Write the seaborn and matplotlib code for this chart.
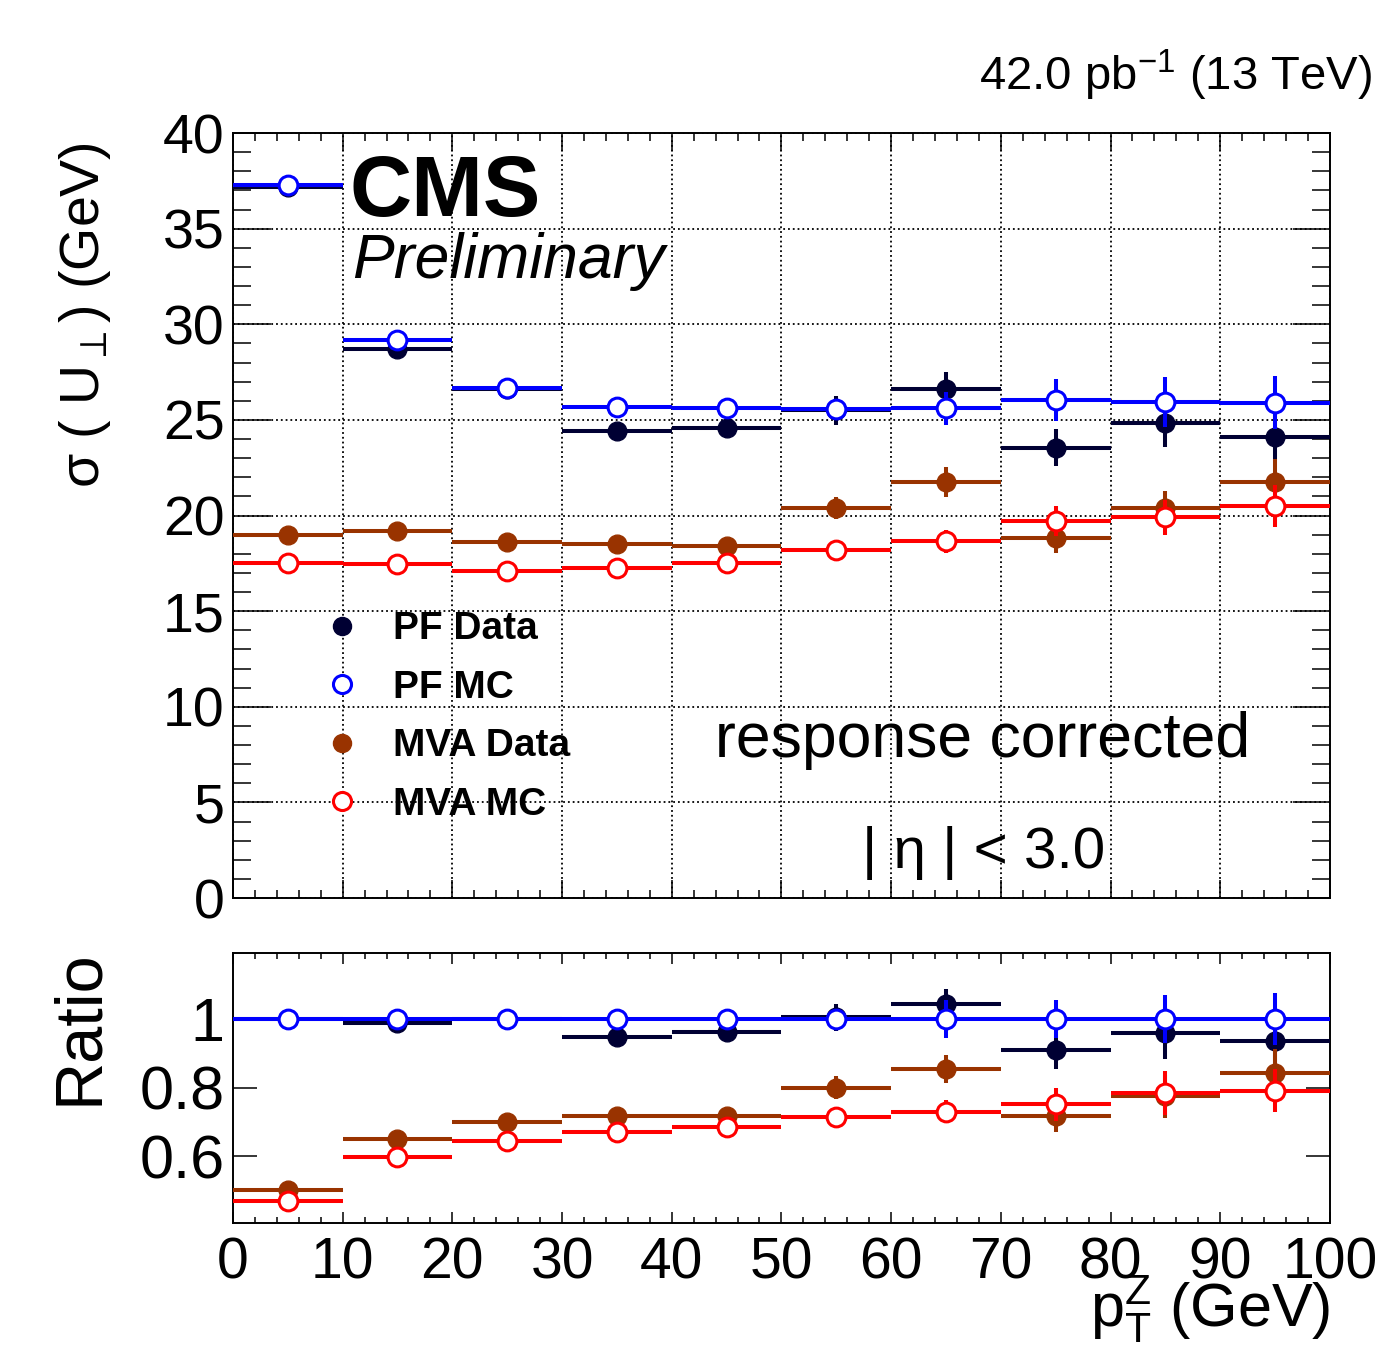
import numpy as np
import pandas as pd
import matplotlib
matplotlib.use("Agg")
import matplotlib.pyplot as plt
from matplotlib.lines import Line2D
from matplotlib.ticker import MultipleLocator, FixedLocator
import seaborn as sns

# ── data ──────────────────────────────────────────────────────────────────────
bin_centers = [5, 15, 25, 35, 45, 55, 65, 75, 85, 95]
bin_half = 5

pf_data     = [37.2, 28.7, 26.6, 24.4, 24.6, 25.5, 26.6, 23.55, 24.85, 24.1]
pf_data_err = [0.25, 0.25, 0.3, 0.3, 0.3, 0.75, 0.88, 0.95, 1.25, 1.15]
pf_mc       = [37.3, 29.2, 26.65, 25.7, 25.6, 25.55, 25.6, 26.05, 25.95, 25.9]
pf_mc_err   = [0.1, 0.15, 0.2, 0.25, 0.3, 0.45, 0.87, 1.1, 1.3, 1.4]
mva_data     = [19.0, 19.2, 18.6, 18.5, 18.4, 20.4, 21.75, 18.85, 20.4, 21.75]
mva_data_err = [0.2, 0.25, 0.25, 0.3, 0.3, 0.58, 0.78, 0.8, 0.9, 1.2]
mva_mc       = [17.5, 17.45, 17.1, 17.25, 17.5, 18.2, 18.65, 19.7, 19.9, 20.5]
mva_mc_err   = [0.15, 0.2, 0.2, 0.25, 0.3, 0.35, 0.6, 0.78, 0.9, 1.1]

r_pf_data     = [1.0, 0.99, 1.0, 0.947, 0.963, 1.005, 1.045, 0.91, 0.96, 0.937]
r_pf_data_err = [0.01, 0.012, 0.012, 0.015, 0.015, 0.039, 0.044, 0.054, 0.075, 0.068]
r_pf_mc       = [1.0, 1.0, 1.0, 1.0, 1.0, 1.0, 1.0, 1.0, 1.0, 1.0]
r_pf_mc_err   = [0.005, 0.007, 0.008, 0.01, 0.012, 0.02, 0.055, 0.055, 0.07, 0.076]
r_mva_data     = [0.503, 0.65, 0.70, 0.719, 0.719, 0.80, 0.855, 0.718, 0.775, 0.842]
r_mva_data_err = [0.01, 0.012, 0.012, 0.015, 0.015, 0.034, 0.041, 0.047, 0.063, 0.07]
r_mva_mc       = [0.47, 0.597, 0.645, 0.67, 0.685, 0.715, 0.73, 0.752, 0.785, 0.792]
r_mva_mc_err   = [0.008, 0.01, 0.01, 0.012, 0.012, 0.015, 0.034, 0.048, 0.064, 0.063]

labels = ['PF Data', 'PF MC', 'MVA Data', 'MVA MC']
colors = ['#000033', '#0000ff', '#993300', '#ff0000']
filled = [True, False, True, False]

top_vals = [(pf_data, pf_data_err), (pf_mc, pf_mc_err),
            (mva_data, mva_data_err), (mva_mc, mva_mc_err)]
ratio_vals = [(r_pf_data, r_pf_data_err), (r_pf_mc, r_pf_mc_err),
              (r_mva_data, r_mva_data_err), (r_mva_mc, r_mva_mc_err)]

# ── style ─────────────────────────────────────────────────────────────────────
sns.set_theme(style="ticks")
plt.rcParams['font.family'] = ['Liberation Sans', 'DejaVu Sans']
plt.rcParams['mathtext.fontset'] = 'custom'
plt.rcParams['mathtext.rm'] = 'Liberation Sans'
plt.rcParams['mathtext.it'] = 'Liberation Sans:italic'
plt.rcParams['mathtext.bf'] = 'Liberation Sans:bold'
plt.rcParams['axes.linewidth'] = 1.4
for key in ['text.color', 'axes.labelcolor', 'xtick.color', 'ytick.color',
            'axes.edgecolor']:
    plt.rcParams[key] = 'black'

fig = plt.figure(figsize=(13.8, 13.48), dpi=100)
ax1 = fig.add_axes([0.1688, 0.3338, 0.7949, 0.5675])
ax2 = fig.add_axes([0.1688, 0.0930, 0.7949, 0.2003])


def draw_series(ax, vals, ms=13.5):
    for i, (y, yerr) in enumerate(vals):
        df = pd.DataFrame({'x': bin_centers, 'y': y})
        ax.errorbar(bin_centers, y, xerr=bin_half, yerr=yerr, fmt='none',
                    ecolor=colors[i], elinewidth=2.9, capsize=0, zorder=3 + i)
        if filled[i]:
            sns.scatterplot(data=df, x='x', y='y', ax=ax, color=colors[i],
                            s=ms ** 2, marker='o', edgecolor=colors[i],
                            linewidth=1.0, zorder=3.5 + i, legend=False)
        else:
            sns.scatterplot(data=df, x='x', y='y', ax=ax, s=ms ** 2, marker='o',
                            facecolor='white', edgecolor=colors[i],
                            linewidth=2.2, zorder=3.5 + i, legend=False)


draw_series(ax1, top_vals)
ax2.axhline(1.0, color='#777777', ls='--', lw=1.5, zorder=1)
draw_series(ax2, ratio_vals)

# ── top panel axes ────────────────────────────────────────────────────────────
ax1.set_xlim(0, 100)
ax1.set_ylim(0, 40)
ax1.xaxis.set_major_locator(MultipleLocator(10))
ax1.xaxis.set_minor_locator(MultipleLocator(2))
ax1.yaxis.set_major_locator(MultipleLocator(5))
ax1.yaxis.set_minor_locator(MultipleLocator(1))
ax1.grid(True, which='major', ls=':', color='black', lw=1.3, zorder=0)
ax1.set_axisbelow(True)
ax1.set_xlabel('')
ax1.set_ylabel('')
ax1.tick_params(axis='both', which='both', direction='in', top=True, right=True,
                color='black', width=1.1)
ax1.tick_params(axis='y', which='major', length=27, labelsize=40, pad=6)
ax1.tick_params(axis='y', which='minor', length=13)
ax1.tick_params(axis='x', which='major', length=13, labelbottom=False)
ax1.tick_params(axis='x', which='minor', length=6)

# ── ratio panel axes ──────────────────────────────────────────────────────────
ax2.set_xlim(0, 100)
ax2.set_ylim(0.407, 1.194)
ax2.xaxis.set_major_locator(MultipleLocator(10))
ax2.xaxis.set_minor_locator(MultipleLocator(2))
ax2.yaxis.set_major_locator(FixedLocator([0.6, 0.8, 1.0]))
ax2.yaxis.set_minor_locator(FixedLocator([]))
ax2.set_yticklabels(['0.6', '0.8', '1'])
ax2.set_xlabel('')
ax2.set_ylabel('')
ax2.tick_params(axis='both', which='both', direction='in', top=True, right=True,
                color='black', width=1.1)
ax2.tick_params(axis='y', which='major', length=17, labelsize=44, pad=6)
ax2.tick_params(axis='x', which='major', length=8, labelsize=41, pad=10)
ax2.tick_params(axis='x', which='minor', length=4)

# ── legend ────────────────────────────────────────────────────────────────────
handles = [Line2D([], [], ls='none', marker='o', ms=13,
                  markerfacecolor=(c if f else 'white'), markeredgecolor=c,
                  markeredgewidth=(1.0 if f else 2.2))
           for c, f in zip(colors, filled)]
leg = ax1.legend(handles, labels, loc='upper left', bbox_to_anchor=(0.2373, 0.5465),
                 bbox_transform=fig.transFigure, frameon=False, borderaxespad=0,
                 borderpad=0, handlelength=0.75, handletextpad=0.94,
                 labelspacing=0.58, prop={'size': 28, 'weight': 'bold'})

# ── texts ─────────────────────────────────────────────────────────────────────
fig.text(0.994, 0.944, r'42.0 pb$^{\mathregular{-1}}$ (13 TeV)', ha='right',
         va='center', fontsize=34)
fig.text(0.2536, 0.856, 'CMS', ha='left', va='center', fontsize=62,
         fontweight='bold')
fig.text(0.2550, 0.806, 'Preliminary', ha='left', va='center', fontsize=45,
         fontstyle='italic')
fig.text(0.518, 0.451, 'response corrected', ha='left', va='center', fontsize=45)
fig.text(0.625, 0.367, '| η | < 3.0', ha='left', va='center', fontsize=42)
fig.text(0.0616, 0.766, r'σ ( U$_{\perp}$) (GeV)', rotation=90, ha='center',
         va='center', fontsize=40)
fig.text(0.058, 0.238, 'Ratio', rotation=90, ha='center', va='center',
         fontsize=48)
fig.text(0.9638, 0.029, r'p$_{\mathregular{T}}^{\mathregular{Z}}$ (GeV)',
         ha='right', va='center', fontsize=44)

fig.savefig('out.png', dpi=100)
